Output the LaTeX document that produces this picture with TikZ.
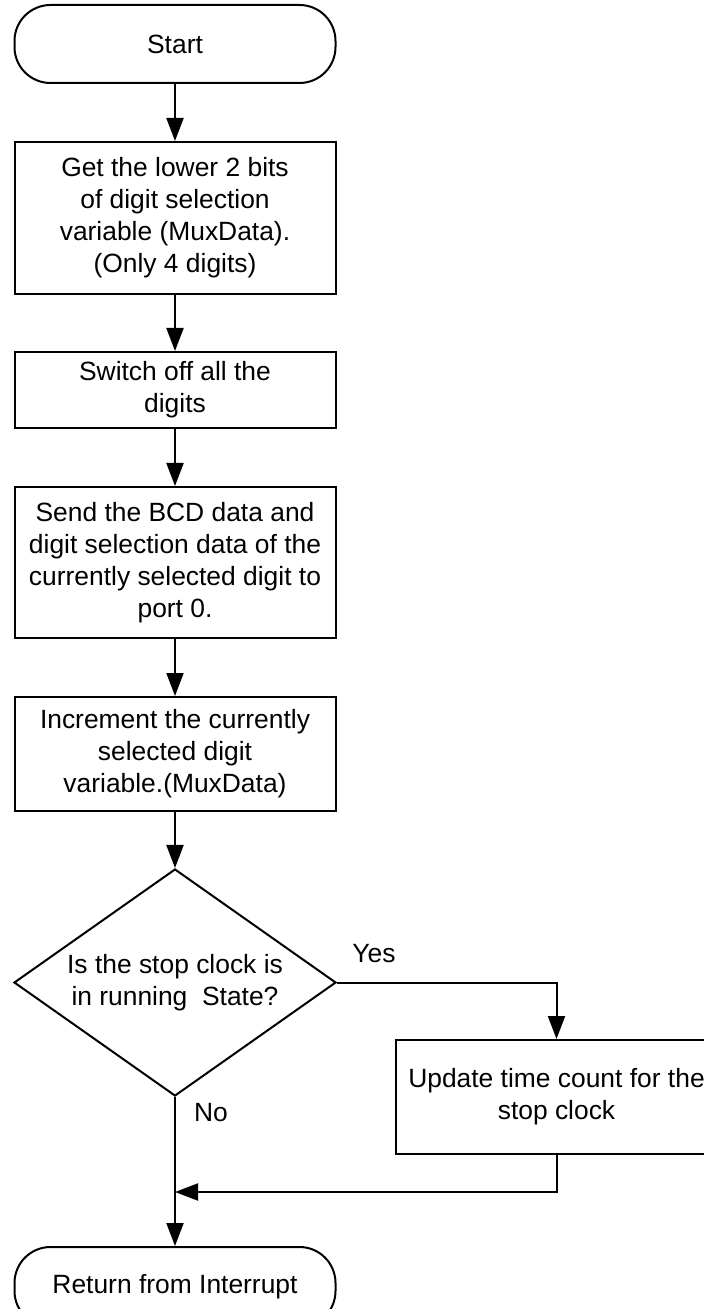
\documentclass[tikz,border=0pt]{standalone}
\usepackage{fontspec}
\setmainfont{Liberation Sans}
\usetikzlibrary{arrows.meta,positioning,shapes.geometric}

\begin{document}
\begin{tikzpicture}[
  node distance=28.5pt,
  box/.style={draw, line width=1pt, align=center, font=\fontsize{13.2}{16}\selectfont,
              inner sep=2pt, minimum width=160.5pt},
  termbox/.style={box, rounded corners=18pt, minimum height=39pt},
  procbox/.style={box},
  decbox/.style={box, diamond, aspect=1.42, inner sep=0pt, minimum width=161pt, minimum height=113.5pt},
  lbl/.style={font=\fontsize{13.2}{16}\selectfont},
  arr/.style={-{Triangle[length=11.5pt,width=8.5pt]}, line width=1pt}
]
\useasboundingbox (0,0) rectangle (352pt,-654.5pt);
\clip (0,0) rectangle (352pt,-654.5pt);

\node[termbox] (start) at (87.5pt,-22pt) {Start};
\node[procbox, below=of start, minimum height=76pt] (lowbits)
  {Get the lower 2 bits\\of digit selection\\variable (MuxData).\\(Only 4 digits)};
\node[procbox, below=28pt of lowbits, minimum height=38pt] (alloff) {Switch off all the\\digits};
\node[procbox, below=of alloff, minimum height=75.5pt] (send)
  {Send the BCD data and\\digit selection data of the\\currently selected digit to\\port 0.};
\node[procbox, below=of send, minimum height=57pt] (incr)
  {Increment the currently\\selected digit\\variable.(MuxData)};
\node[decbox, below=28pt of incr] (running) {Is the stop clock is\\in running\ \ State?};
\node[procbox, anchor=west, minimum height=57pt] (update) at ([xshift=29pt]running.east |- running.south)
  {Update time count for the\\stop clock};
\node[termbox, below=74.5pt of running, minimum height=40pt] (ret) {Return from Interrupt};

\draw[arr] (start) -- (lowbits);
\draw[arr] (lowbits) -- (alloff);
\draw[arr] (alloff) -- (send);
\draw[arr] (send) -- (incr);
\draw[arr] (incr) -- (running);
\draw[arr] (running.east) -| (update);
\draw[arr] (running) -- (ret);

% back from the update box into the main line
\coordinate[below=18.5pt of update.south] (join);
\draw[arr] (update.south) -- (join) -- (join -| running.south);

\node[lbl] (yes) at ([xshift=18.5pt,yshift=14.5pt]running.east) {Yes};
\node[lbl] (no) at ([xshift=18pt,yshift=-8pt]running.south) {No};
\end{tikzpicture}
\end{document}
